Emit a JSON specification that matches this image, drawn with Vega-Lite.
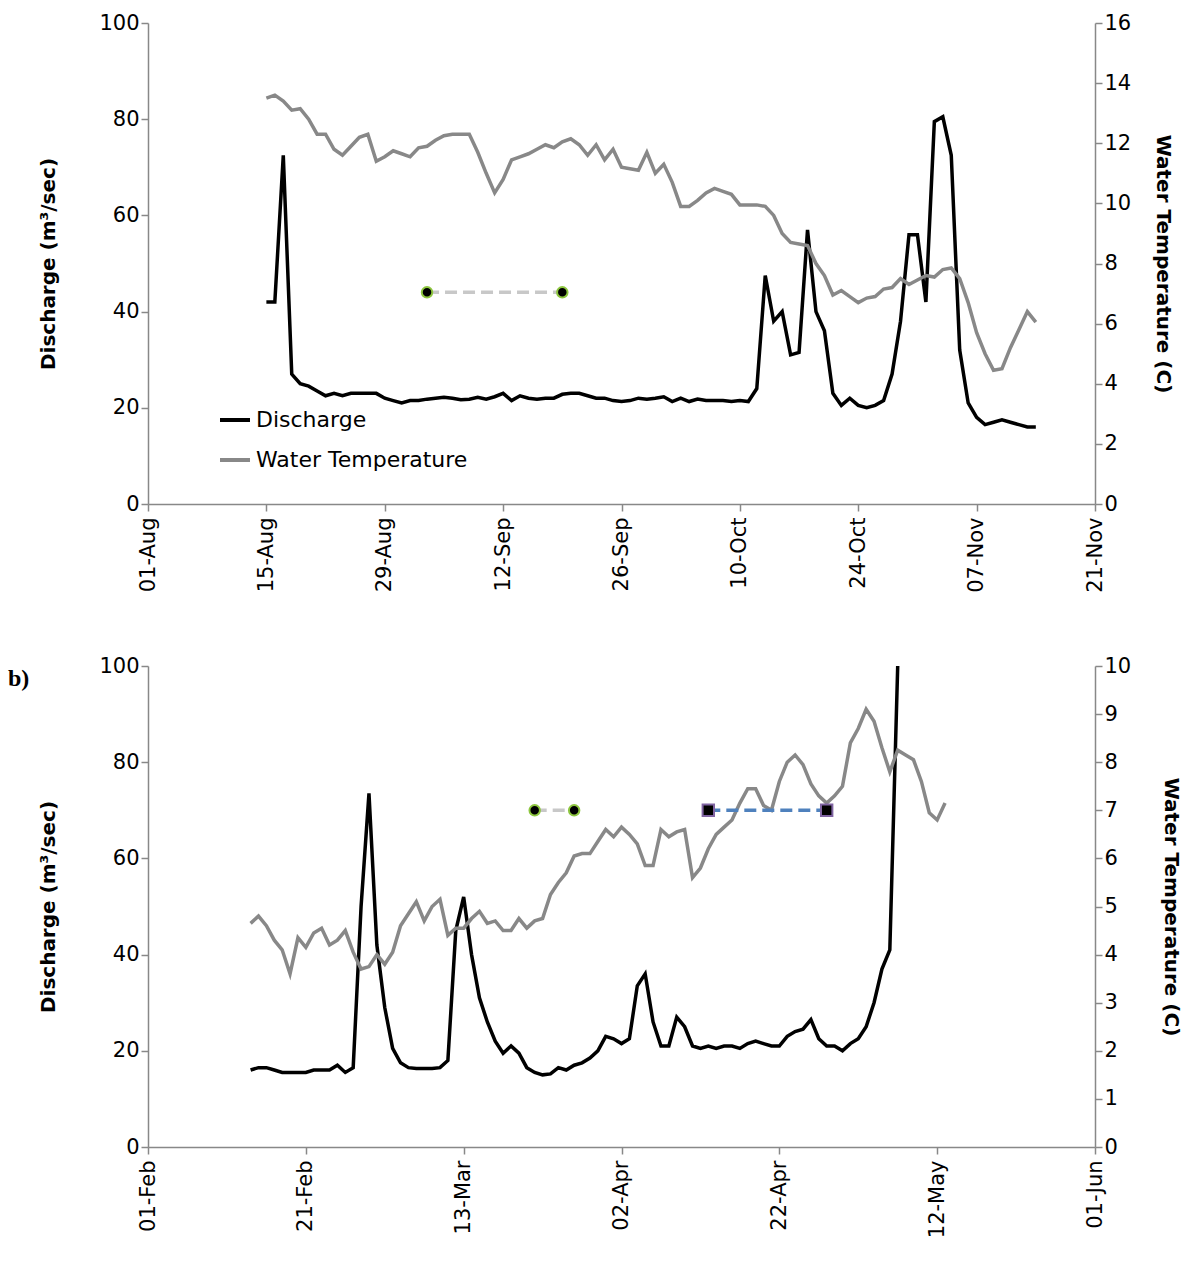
{
  "$schema": "https://vega.github.io/schema/vega-lite/v6.json",
  "background": "white",
  "padding": {"left": 8, "top": 12, "right": 2, "bottom": 5},
  "spacing": 62,
  "datasets": {
    "a": [
      {"d":"2013-08-15","q":42,"t":13.5},{"d":"2013-08-16","q":42,"t":13.6},{"d":"2013-08-17","q":72.5,"t":13.4},{"d":"2013-08-18","q":27,"t":13.1},{"d":"2013-08-19","q":25,"t":13.15},{"d":"2013-08-20","q":24.5,"t":12.8},{"d":"2013-08-21","q":23.5,"t":12.3},{"d":"2013-08-22","q":22.5,"t":12.3},{"d":"2013-08-23","q":23,"t":11.8},{"d":"2013-08-24","q":22.5,"t":11.6},{"d":"2013-08-25","q":23,"t":11.9},{"d":"2013-08-26","q":23,"t":12.2},{"d":"2013-08-27","q":23,"t":12.3},{"d":"2013-08-28","q":23,"t":11.4},{"d":"2013-08-29","q":22,"t":11.55},{"d":"2013-08-30","q":21.5,"t":11.75},{"d":"2013-08-31","q":21,"t":11.65},
      {"d":"2013-09-01","q":21.5,"t":11.55},{"d":"2013-09-02","q":21.5,"t":11.85},{"d":"2013-09-03","q":21.8,"t":11.9},{"d":"2013-09-04","q":22,"t":12.1},{"d":"2013-09-05","q":22.2,"t":12.25},{"d":"2013-09-06","q":22,"t":12.3},{"d":"2013-09-07","q":21.7,"t":12.3},{"d":"2013-09-08","q":21.8,"t":12.3},{"d":"2013-09-09","q":22.2,"t":11.7},{"d":"2013-09-10","q":21.8,"t":11.0},{"d":"2013-09-11","q":22.3,"t":10.35},{"d":"2013-09-12","q":23,"t":10.8},{"d":"2013-09-13","q":21.5,"t":11.45},{"d":"2013-09-14","q":22.5,"t":11.55},{"d":"2013-09-15","q":22,"t":11.65},{"d":"2013-09-16","q":21.8,"t":11.8},{"d":"2013-09-17","q":22,"t":11.95},{"d":"2013-09-18","q":22,"t":11.85},{"d":"2013-09-19","q":22.8,"t":12.05},{"d":"2013-09-20","q":23,"t":12.15},{"d":"2013-09-21","q":23,"t":11.95},{"d":"2013-09-22","q":22.5,"t":11.6},{"d":"2013-09-23","q":22,"t":11.95},{"d":"2013-09-24","q":22,"t":11.45},{"d":"2013-09-25","q":21.5,"t":11.8},{"d":"2013-09-26","q":21.3,"t":11.2},{"d":"2013-09-27","q":21.5,"t":11.15},{"d":"2013-09-28","q":22,"t":11.1},{"d":"2013-09-29","q":21.8,"t":11.7},{"d":"2013-09-30","q":22,"t":11.0},
      {"d":"2013-10-01","q":22.3,"t":11.3},{"d":"2013-10-02","q":21.3,"t":10.7},{"d":"2013-10-03","q":22,"t":9.9},{"d":"2013-10-04","q":21.3,"t":9.9},{"d":"2013-10-05","q":21.8,"t":10.1},{"d":"2013-10-06","q":21.5,"t":10.35},{"d":"2013-10-07","q":21.5,"t":10.5},{"d":"2013-10-08","q":21.5,"t":10.4},{"d":"2013-10-09","q":21.3,"t":10.3},{"d":"2013-10-10","q":21.5,"t":9.95},{"d":"2013-10-11","q":21.3,"t":9.95},{"d":"2013-10-12","q":24,"t":9.95},{"d":"2013-10-13","q":47.5,"t":9.9},{"d":"2013-10-14","q":38,"t":9.6},{"d":"2013-10-15","q":40,"t":9.0},{"d":"2013-10-16","q":31,"t":8.7},{"d":"2013-10-17","q":31.5,"t":8.65},{"d":"2013-10-18","q":57,"t":8.6},{"d":"2013-10-19","q":40,"t":8.0},{"d":"2013-10-20","q":36,"t":7.6},{"d":"2013-10-21","q":23,"t":6.95},{"d":"2013-10-22","q":20.5,"t":7.1},{"d":"2013-10-23","q":22,"t":6.9},{"d":"2013-10-24","q":20.5,"t":6.7},{"d":"2013-10-25","q":20,"t":6.85},{"d":"2013-10-26","q":20.5,"t":6.9},{"d":"2013-10-27","q":21.5,"t":7.15},{"d":"2013-10-28","q":27,"t":7.2},{"d":"2013-10-29","q":38,"t":7.5},{"d":"2013-10-30","q":56,"t":7.3},{"d":"2013-10-31","q":56,"t":7.45},
      {"d":"2013-11-01","q":42,"t":7.6},{"d":"2013-11-02","q":79.5,"t":7.55},{"d":"2013-11-03","q":80.5,"t":7.8},{"d":"2013-11-04","q":72.5,"t":7.85},{"d":"2013-11-05","q":32,"t":7.5},{"d":"2013-11-06","q":21,"t":6.7},{"d":"2013-11-07","q":18,"t":5.7},{"d":"2013-11-08","q":16.5,"t":5.0},{"d":"2013-11-09","q":17,"t":4.45},{"d":"2013-11-10","q":17.5,"t":4.5},{"d":"2013-11-11","q":17,"t":5.2},{"d":"2013-11-12","q":16.5,"t":5.8},{"d":"2013-11-13","q":16,"t":6.4},{"d":"2013-11-14","q":16,"t":6.05}
    ],
    "b": [
      {"d":"2013-02-14","q":16,"t":4.65},{"d":"2013-02-15","q":16.5,"t":4.8},{"d":"2013-02-16","q":16.5,"t":4.6},{"d":"2013-02-17","q":16,"t":4.3},{"d":"2013-02-18","q":15.5,"t":4.1},{"d":"2013-02-19","q":15.5,"t":3.6},{"d":"2013-02-20","q":15.5,"t":4.35},{"d":"2013-02-21","q":15.5,"t":4.15},{"d":"2013-02-22","q":16,"t":4.45},{"d":"2013-02-23","q":16,"t":4.55},{"d":"2013-02-24","q":16,"t":4.2},{"d":"2013-02-25","q":17,"t":4.3},{"d":"2013-02-26","q":15.5,"t":4.5},{"d":"2013-02-27","q":16.5,"t":4.05},{"d":"2013-02-28","q":50,"t":3.7},
      {"d":"2013-03-01","q":73.5,"t":3.75},{"d":"2013-03-02","q":42,"t":4.0},{"d":"2013-03-03","q":29,"t":3.8},{"d":"2013-03-04","q":20.5,"t":4.05},{"d":"2013-03-05","q":17.5,"t":4.6},{"d":"2013-03-06","q":16.5,"t":4.85},{"d":"2013-03-07","q":16.3,"t":5.1},{"d":"2013-03-08","q":16.3,"t":4.7},{"d":"2013-03-09","q":16.3,"t":5.0},{"d":"2013-03-10","q":16.5,"t":5.15},{"d":"2013-03-11","q":18,"t":4.4},{"d":"2013-03-12","q":45,"t":4.55},{"d":"2013-03-13","q":52,"t":4.55},{"d":"2013-03-14","q":40,"t":4.75},{"d":"2013-03-15","q":31,"t":4.9},{"d":"2013-03-16","q":26,"t":4.65},{"d":"2013-03-17","q":22,"t":4.7},{"d":"2013-03-18","q":19.5,"t":4.5},{"d":"2013-03-19","q":21,"t":4.5},{"d":"2013-03-20","q":19.5,"t":4.75},{"d":"2013-03-21","q":16.5,"t":4.55},{"d":"2013-03-22","q":15.5,"t":4.7},{"d":"2013-03-23","q":15,"t":4.75},{"d":"2013-03-24","q":15.2,"t":5.25},{"d":"2013-03-25","q":16.5,"t":5.5},{"d":"2013-03-26","q":16,"t":5.7},{"d":"2013-03-27","q":17,"t":6.05},{"d":"2013-03-28","q":17.5,"t":6.1},{"d":"2013-03-29","q":18.5,"t":6.1},{"d":"2013-03-30","q":20,"t":6.35},{"d":"2013-03-31","q":23,"t":6.6},
      {"d":"2013-04-01","q":22.5,"t":6.45},{"d":"2013-04-02","q":21.5,"t":6.65},{"d":"2013-04-03","q":22.5,"t":6.5},{"d":"2013-04-04","q":33.5,"t":6.3},{"d":"2013-04-05","q":36,"t":5.85},{"d":"2013-04-06","q":26,"t":5.85},{"d":"2013-04-07","q":21,"t":6.6},{"d":"2013-04-08","q":21,"t":6.45},{"d":"2013-04-09","q":27,"t":6.55},{"d":"2013-04-10","q":25,"t":6.6},{"d":"2013-04-11","q":21,"t":5.6},{"d":"2013-04-12","q":20.5,"t":5.8},{"d":"2013-04-13","q":21,"t":6.2},{"d":"2013-04-14","q":20.5,"t":6.5},{"d":"2013-04-15","q":21,"t":6.65},{"d":"2013-04-16","q":21,"t":6.8},{"d":"2013-04-17","q":20.5,"t":7.15},{"d":"2013-04-18","q":21.5,"t":7.45},{"d":"2013-04-19","q":22,"t":7.45},{"d":"2013-04-20","q":21.5,"t":7.1},{"d":"2013-04-21","q":21,"t":7.0},{"d":"2013-04-22","q":21,"t":7.6},{"d":"2013-04-23","q":23,"t":8.0},{"d":"2013-04-24","q":24,"t":8.15},{"d":"2013-04-25","q":24.5,"t":7.95},{"d":"2013-04-26","q":26.5,"t":7.55},{"d":"2013-04-27","q":22.5,"t":7.3},{"d":"2013-04-28","q":21,"t":7.15},{"d":"2013-04-29","q":21,"t":7.3},{"d":"2013-04-30","q":20,"t":7.5},
      {"d":"2013-05-01","q":21.5,"t":8.4},{"d":"2013-05-02","q":22.5,"t":8.7},{"d":"2013-05-03","q":25,"t":9.1},{"d":"2013-05-04","q":30,"t":8.85},{"d":"2013-05-05","q":37,"t":8.3},{"d":"2013-05-06","q":41,"t":7.8},{"d":"2013-05-07","q":100,"t":8.25},{"d":"2013-05-08","q":null,"t":8.15},{"d":"2013-05-09","q":null,"t":8.05},{"d":"2013-05-10","q":null,"t":7.6},{"d":"2013-05-11","q":null,"t":6.95},{"d":"2013-05-12","q":null,"t":6.8},{"d":"2013-05-13","q":null,"t":7.15}
    ],
    "annA": [{"d":"2013-09-03","v":44},{"d":"2013-09-19","v":44}],
    "annB1": [{"d":"2013-03-22","v":70},{"d":"2013-03-27","v":70}],
    "annB2": [{"d":"2013-04-13","v":70},{"d":"2013-04-28","v":70}]
  },
  "config": {
    "font": "DejaVu Sans",
    "view": {"stroke": null},
    "axis": {"grid": false, "domainColor": "#888", "tickColor": "#888", "labelFontSize": 21, "labelColor": "black", "titleFontSize": 20, "titleFontWeight": "bold", "titleColor": "black", "tickSize": 7, "domainWidth": 1.5, "tickWidth": 1.5}
  },
  "vconcat": [
    {
      "width": 947, "height": 481,
      "layer": [
        {
          "data": {"name": "a"},
          "mark": {"type": "line", "strokeWidth": 3.5},
          "encoding": {
            "x": {"field": "d", "type": "temporal", "scale": {"domain": ["2013-08-01", "2013-11-21"]},
              "axis": {"values": ["2013-08-01","2013-08-15","2013-08-29","2013-09-12","2013-09-26","2013-10-10","2013-10-24","2013-11-07","2013-11-21"], "format": "%d-%b", "labelAngle": -90, "title": null, "labelPadding": 6}},
            "y": {"field": "q", "type": "quantitative", "scale": {"domain": [0, 100]}, "axis": {"values": [0,20,40,60,80,100], "title": "Discharge (m³/sec)", "titlePadding": 40}},
            "color": {"datum": "Discharge", "type": "nominal", "scale": {"domain": ["Discharge", "Water Temperature"], "range": ["black", "#888888"]},
              "legend": {"title": null, "orient": "none", "legendX": 70, "legendY": 380, "symbolType": "stroke", "symbolStrokeWidth": 4, "symbolSize": 900, "labelFontSize": 22, "labelLimit": 0, "rowPadding": 12}}
          }
        },
        {
          "data": {"name": "a"},
          "mark": {"type": "line", "strokeWidth": 3.5},
          "encoding": {
            "x": {"field": "d", "type": "temporal"},
            "y": {"field": "t", "type": "quantitative", "scale": {"domain": [0, 16]}, "axis": {"orient": "right", "values": [0,2,4,6,8,10,12,14,16], "title": "Water Temperature (C)", "titlePadding": 22}},
            "color": {"datum": "Water Temperature", "type": "nominal"}
          }
        },
        {
          "data": {"name": "annA"},
          "mark": {"type": "line", "strokeWidth": 3.5, "color": "#c8c8c8", "strokeDash": [12, 6], "point": {"filled": true, "fill": "black", "stroke": "#8dc63f", "strokeWidth": 2, "size": 110}},
          "encoding": {
            "x": {"field": "d", "type": "temporal"},
            "y": {"field": "v", "type": "quantitative", "scale": {"domain": [0, 100]}, "axis": null}
          }
        }
      ],
      "resolve": {"scale": {"y": "independent"}}
    },
    {
      "width": 947, "height": 481,
      "title": {"text": "b)", "anchor": "start", "frame": "group", "font": "Liberation Serif", "fontSize": 24, "fontWeight": "bold", "dx": -140, "dy": 36, "offset": 0},
      "layer": [
        {
          "data": {"name": "b"},
          "mark": {"type": "line", "strokeWidth": 3.5},
          "encoding": {
            "x": {"field": "d", "type": "temporal", "scale": {"domain": ["2013-02-01", "2013-06-01"]},
              "axis": {"values": ["2013-02-01","2013-02-21","2013-03-13","2013-04-02","2013-04-22","2013-05-12","2013-06-01"], "format": "%d-%b", "labelAngle": -90, "title": null, "labelPadding": 6}},
            "y": {"field": "q", "type": "quantitative", "scale": {"domain": [0, 100]}, "axis": {"values": [0,20,40,60,80,100], "title": "Discharge (m³/sec)", "titlePadding": 40}},
            "color": {"datum": "Discharge", "type": "nominal", "scale": {"domain": ["Discharge", "Water Temperature"], "range": ["black", "#888888"]}, "legend": null}
          }
        },
        {
          "data": {"name": "b"},
          "mark": {"type": "line", "strokeWidth": 3.5},
          "encoding": {
            "x": {"field": "d", "type": "temporal"},
            "y": {"field": "t", "type": "quantitative", "scale": {"domain": [0, 10]}, "axis": {"orient": "right", "values": [0,1,2,3,4,5,6,7,8,9,10], "title": "Water Temperature (C)", "titlePadding": 30}},
            "color": {"datum": "Water Temperature", "type": "nominal", "legend": null}
          }
        },
        {
          "data": {"name": "annB1"},
          "mark": {"type": "line", "strokeWidth": 3.5, "color": "#c8c8c8", "strokeDash": [12, 6], "point": {"filled": true, "fill": "black", "stroke": "#8dc63f", "strokeWidth": 2, "size": 110}},
          "encoding": {
            "x": {"field": "d", "type": "temporal"},
            "y": {"field": "v", "type": "quantitative", "scale": {"domain": [0, 100]}, "axis": null}
          }
        },
        {
          "data": {"name": "annB2"},
          "mark": {"type": "line", "strokeWidth": 3.5, "color": "#4f81bd", "strokeDash": [12, 6], "point": {"filled": true, "shape": "square", "fill": "black", "stroke": "#8064a2", "strokeWidth": 2, "size": 130}},
          "encoding": {
            "x": {"field": "d", "type": "temporal"},
            "y": {"field": "v", "type": "quantitative", "scale": {"domain": [0, 100]}, "axis": null}
          }
        }
      ],
      "resolve": {"scale": {"y": "independent"}}
    }
  ]
}
